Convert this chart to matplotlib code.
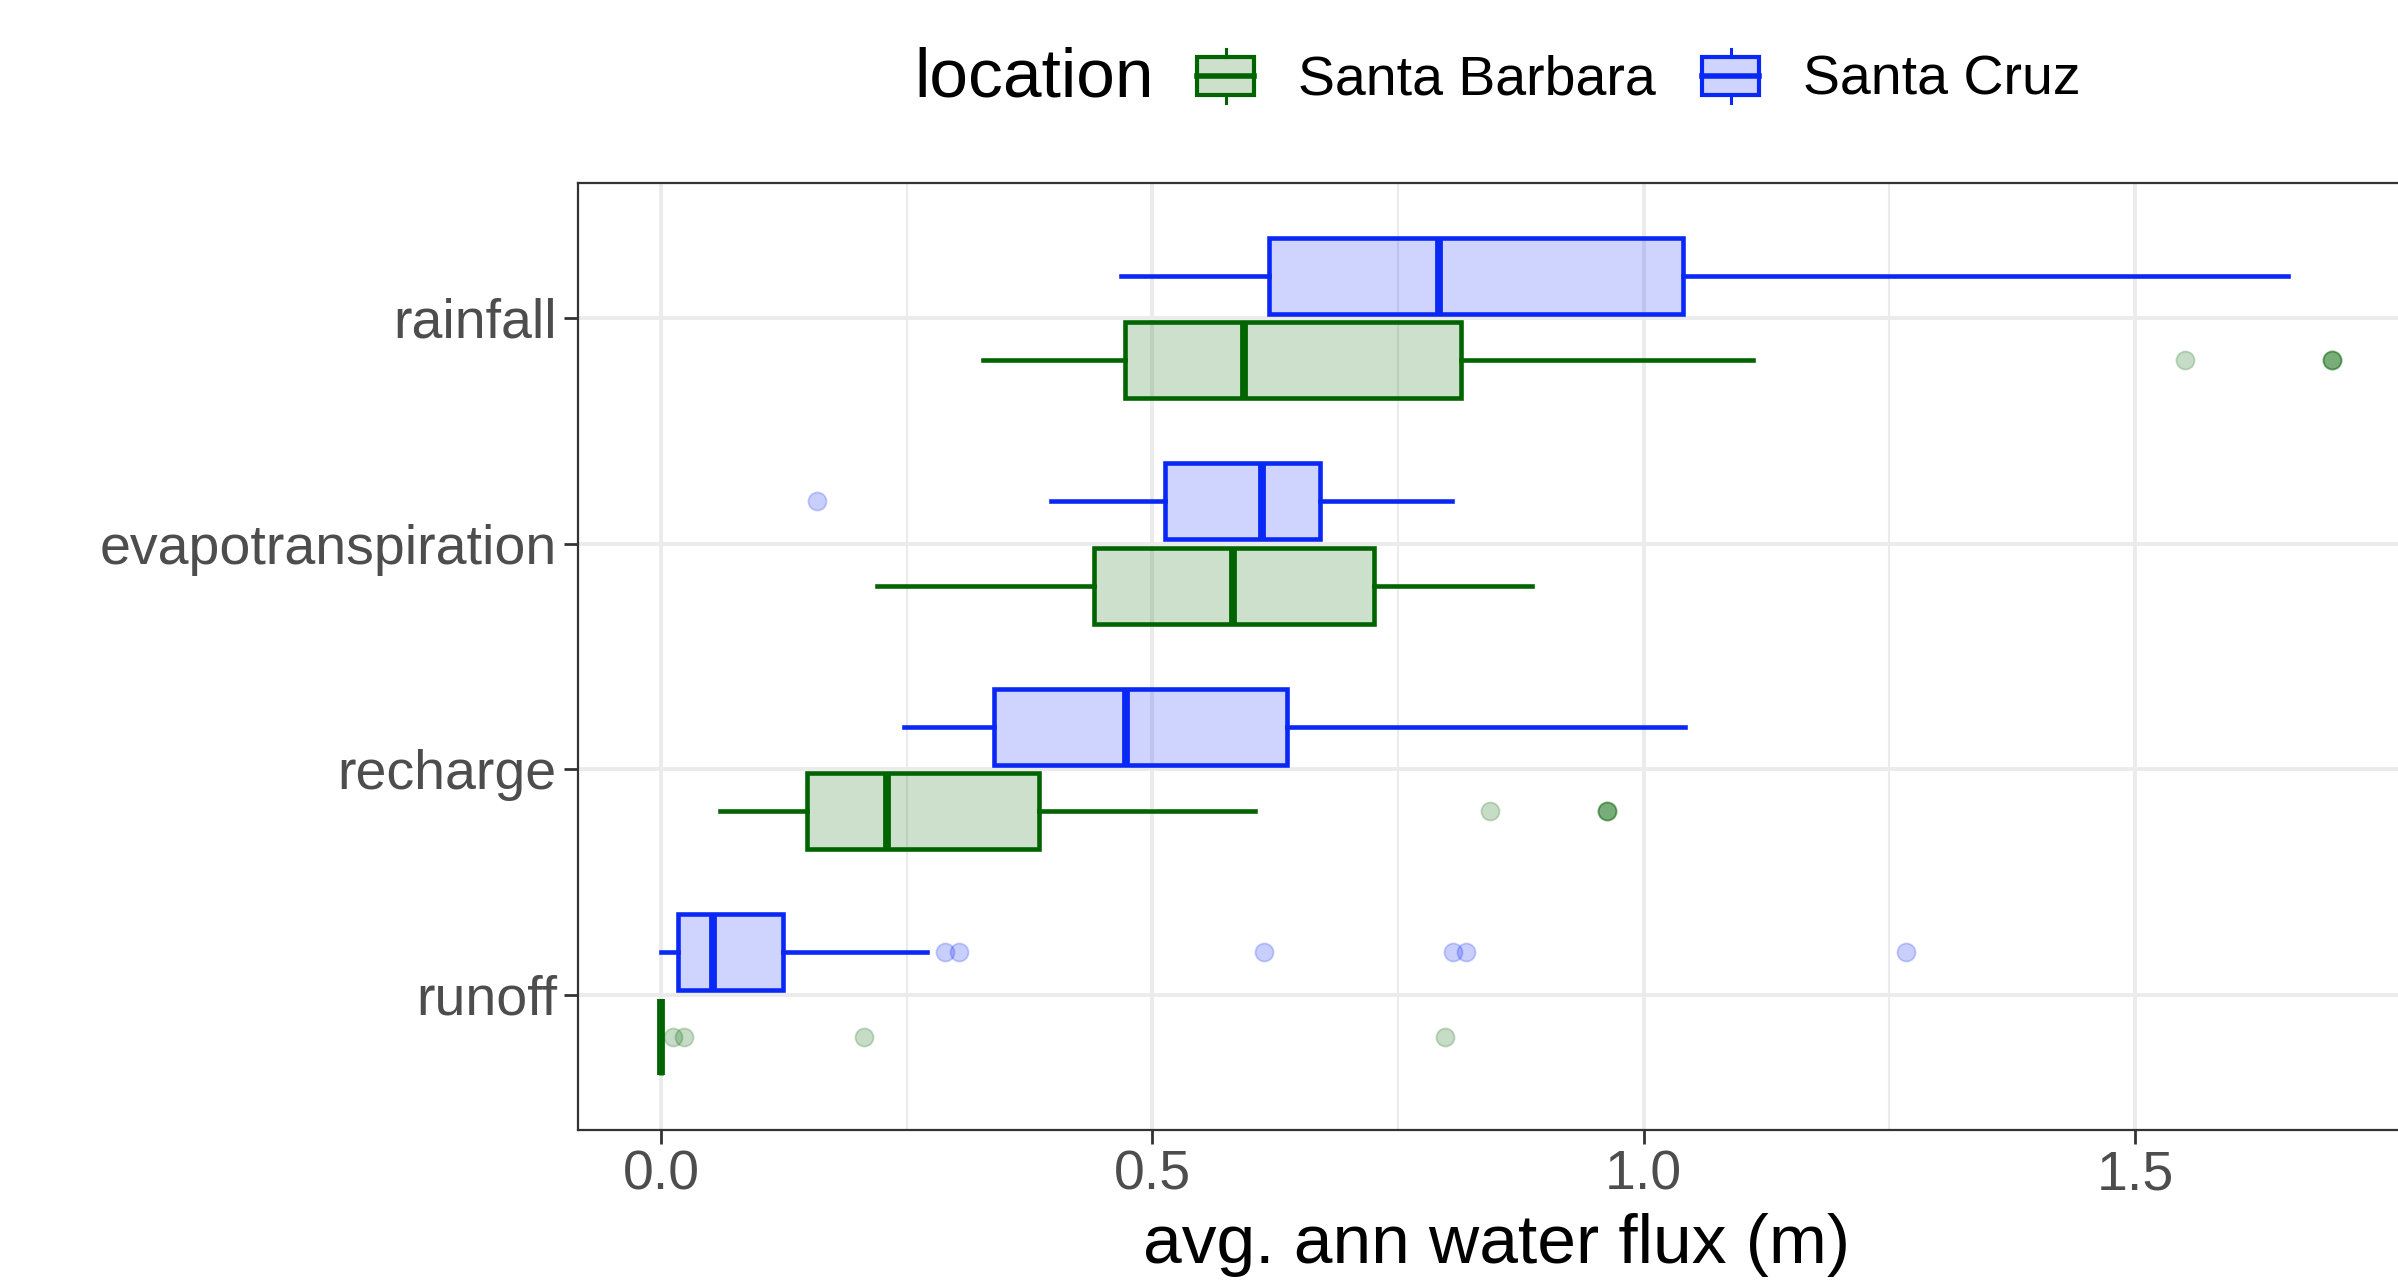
import numpy as np
import matplotlib.pyplot as plt
import matplotlib.patches as mpatches
from matplotlib.colors import to_rgba
from matplotlib.lines import Line2D
from matplotlib.legend_handler import HandlerBase

plt.rcParams['font.family'] = ['Liberation Sans', 'DejaVu Sans']

# categorias de baixo para cima
categories = ["runoff", "recharge", "evapotranspiration", "rainfall"]
locations = ["Santa Barbara", "Santa Cruz"]

# Santa Barbara
sb_whislo = [0.000, 0.060, 0.220, 0.327]
sb_q1 = [0.000, 0.148, 0.440, 0.472]
sb_med = [0.000, 0.230, 0.582, 0.593]
sb_q3 = [0.000, 0.384, 0.725, 0.814]
sb_whishi = [0.000, 0.604, 0.886, 1.111]
sb_fliers = [[0.012, 0.023, 0.206, 0.798],
             [0.844, 0.963, 0.963, 0.963],
             [],
             [1.551, 1.701, 1.701, 1.701]]

# Santa Cruz
sc_whislo = [0.000, 0.247, 0.397, 0.468]
sc_q1 = [0.017, 0.339, 0.513, 0.619]
sc_med = [0.053, 0.473, 0.611, 0.792]
sc_q3 = [0.124, 0.637, 0.671, 1.040]
sc_whishi = [0.271, 1.042, 0.805, 1.656]
sc_fliers = [[0.289, 0.303, 0.614, 0.806, 0.819, 1.267],
             [],
             [0.159],
             []]

colors = {"Santa Barbara": "#006400", "Santa Cruz": "#0a28f5"}
tick_grey = "#4D4D4D"


def make_stats(whislo, q1, med, q3, whishi, fliers):
    stats = []
    for i in range(len(med)):
        stats.append(dict(whislo=whislo[i], q1=q1[i], med=med[i], q3=q3[i],
                          whishi=whishi[i], fliers=np.array(fliers[i])))
    return stats


class BoxKey(HandlerBase):
    """Chave da legenda no estilo ggplot (caixa vertical com bigodes)."""

    def create_artists(self, legend, orig_handle, xdescent, ydescent,
                       width, height, fontsize, trans):
        ec = orig_handle.get_edgecolor()
        fc = orig_handle.get_facecolor()
        x0, y0 = -xdescent, -ydescent
        xc = x0 + width / 2
        rect = mpatches.Rectangle((x0, y0 + 0.15 * height), width, 0.7 * height,
                                  facecolor=fc, edgecolor=ec, lw=3.0, transform=trans)
        med = Line2D([x0, x0 + width], [y0 + 0.5 * height] * 2, color=ec, lw=4.0, transform=trans)
        w1 = Line2D([xc, xc], [y0, y0 + 0.15 * height], color=ec, lw=2.2, transform=trans)
        w2 = Line2D([xc, xc], [y0 + 0.85 * height, y0 + height], color=ec, lw=2.2, transform=trans)
        return [rect, med, w1, w2]


fig = plt.figure(figsize=(23.98, 12.8), dpi=100)
ax = fig.add_axes([0.2409, 0.1172, 0.7666, 0.7401])

base = np.arange(1, len(categories) + 1)
dodge = 0.1875
groups = [
    ("Santa Barbara", base - dodge, make_stats(sb_whislo, sb_q1, sb_med, sb_q3, sb_whishi, sb_fliers)),
    ("Santa Cruz", base + dodge, make_stats(sc_whislo, sc_q1, sc_med, sc_q3, sc_whishi, sc_fliers)),
]

for loc, pos, stats in groups:
    c = colors[loc]
    ax.bxp(stats, positions=pos, widths=0.3375, orientation='horizontal',
           patch_artist=True, showcaps=False, manage_ticks=False,
           boxprops=dict(facecolor=to_rgba(c, 0.2), edgecolor=c, linewidth=3.3),
           medianprops=dict(color=c, linewidth=5.6, solid_capstyle='butt'),
           whiskerprops=dict(color=c, linewidth=3.3),
           flierprops=dict(marker='o', markersize=13, markerfacecolor=c,
                           markeredgecolor=c, markeredgewidth=1.3, alpha=0.22,
                           linestyle='none'),
           zorder=3)

# limites com expansão de 5% (como ggplot)
all_vals = np.concatenate([sb_whislo, sb_whishi, sc_whislo, sc_whishi]
                          + [np.array(f) for f in sb_fliers + sc_fliers if len(f)])
lo, hi = all_vals.min(), all_vals.max()
pad = 0.05 * (hi - lo)
ax.set_xlim(lo - pad, hi + pad)
ax.set_ylim(0.4, len(categories) + 0.6)

ax.set_yticks(base)
ax.set_yticklabels(categories)
ax.set_xticks([0.0, 0.5, 1.0, 1.5])
ax.set_xticklabels(["0.0", "0.5", "1.0", "1.5"])
ax.set_xticks([0.25, 0.75, 1.25], minor=True)
ax.tick_params(axis='both', which='major', labelsize=40, labelcolor=tick_grey,
               color="#333333", width=2.0, length=10)
ax.tick_params(axis='x', which='major', pad=4)
ax.tick_params(axis='y', which='major', pad=5)
ax.tick_params(axis='x', which='minor', length=0)

ax.grid(True, which='major', color="#EBEBEB", linewidth=2.8, zorder=0)
ax.grid(True, which='minor', axis='x', color="#EBEBEB", linewidth=1.5, zorder=0)
ax.set_axisbelow(True)
for s in ax.spines.values():
    s.set_color("#333333")
    s.set_linewidth(1.6)

ax.set_xlabel("avg. ann water flux (m)", fontsize=50, color="black")
ax.xaxis.label.set_va('baseline')
ax.xaxis.set_label_coords(0.5, -0.1405)

# legenda no topo, título à esquerda
fig.text(0.3811, 0.939, "location", fontsize=50, ha='left', va='center')
handles = [mpatches.Patch(facecolor=to_rgba(colors[l], 0.2), edgecolor=colors[l], label=l)
           for l in locations]
fig.legend(handles=handles, loc='center left', bbox_to_anchor=(0.4992, 0.939),
           ncol=2, frameon=False, fontsize=40, borderpad=0, borderaxespad=0,
           handlelength=1.03, handleheight=1.1, handletextpad=0.79,
           columnspacing=0.83, handler_map={mpatches.Patch: BoxKey()})

plt.savefig("out.png", dpi=100)
plt.close()
